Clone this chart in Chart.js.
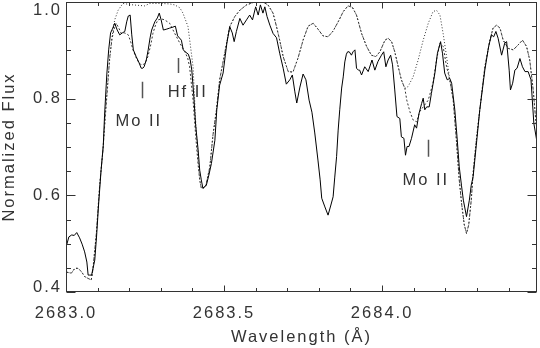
<!DOCTYPE html>
<html><head><meta charset="utf-8">
<script src="https://cdn.jsdelivr.net/npm/chart.js@4/dist/chart.umd.min.js"></script>
<style>html,body{margin:0;padding:0;background:#fff}#wrap{width:540px;height:348px;position:relative}</style>
</head><body><div id="wrap"><canvas id="c"></canvas></div>
<script>
// Observed spectrum (solid)
const obsWave = [2683.002,2683.009,2683.018,2683.026,2683.034,2683.043,2683.051,2683.059,2683.066,2683.070,2683.075,2683.081,2683.091,2683.097,2683.103,2683.111,2683.118,2683.122,2683.129,2683.135,2683.141,2683.148,2683.154,2683.162,2683.170,2683.178,2683.186,2683.192,2683.197,2683.203,2683.208,2683.213,2683.222,2683.230,2683.238,2683.243,2683.247,2683.254,2683.260,2683.266,2683.271,2683.281,2683.289,2683.295,2683.301,2683.308,2683.319,2683.328,2683.338,2683.346,2683.353,2683.365,2683.371,2683.377,2683.387,2683.393,2683.398,2683.404,2683.410,2683.418,2683.423,2683.428,2683.433,2683.444,2683.452,2683.460,2683.471,2683.477,2683.486,2683.497,2683.504,2683.509,2683.518,2683.526,2683.532,2683.539,2683.550,2683.560,2683.571,2683.581,2683.590,2683.600,2683.608,2683.615,2683.623,2683.629,2683.636,2683.645,2683.655,2683.666,2683.676,2683.687,2683.697,2683.708,2683.716,2683.724,2683.730,2683.740,2683.750,2683.759,2683.769,2683.778,2683.787,2683.797,2683.804,2683.809,2683.819,2683.829,2683.838,2683.845,2683.850,2683.856,2683.861,2683.866,2683.872,2683.877,2683.882,2683.887,2683.891,2683.896,2683.903,2683.908,2683.914,2683.919,2683.925,2683.929,2683.935,2683.945,2683.956,2683.968,2683.977,2683.987,2683.998,2684.005,2684.012,2684.019,2684.027,2684.033,2684.040,2684.047,2684.056,2684.061,2684.069,2684.074,2684.079,2684.085,2684.093,2684.103,2684.109,2684.117,2684.125,2684.130,2684.135,2684.141,2684.149,2684.156,2684.167,2684.175,2684.185,2684.191,2684.198,2684.206,2684.214,2684.220,2684.230,2684.237,2684.244,2684.251,2684.257,2684.267,2684.276,2684.282,2684.288,2684.298,2684.309,2684.325,2684.337,2684.346,2684.353,2684.360,2684.367,2684.378,2684.388,2684.394,2684.402,2684.406,2684.413,2684.420,2684.427,2684.436,2684.444,2684.452,2684.462,2684.471,2684.480,2684.489];
const obsFlux = [0.497,0.514,0.518,0.517,0.523,0.512,0.499,0.483,0.462,0.435,0.435,0.435,0.466,0.518,0.580,0.652,0.704,0.766,0.849,0.901,0.936,0.946,0.956,0.942,0.932,0.936,0.939,0.959,0.971,0.973,0.932,0.901,0.887,0.876,0.863,0.863,0.866,0.880,0.901,0.926,0.942,0.959,0.967,0.977,0.963,0.942,0.944,0.946,0.948,0.950,0.930,0.921,0.901,0.897,0.892,0.880,0.859,0.808,0.746,0.694,0.652,0.632,0.615,0.621,0.642,0.666,0.714,0.777,0.828,0.853,0.890,0.915,0.949,0.936,0.918,0.939,0.966,0.952,0.963,0.973,0.963,0.990,0.973,0.994,0.977,0.990,0.970,0.952,0.935,0.926,0.894,0.863,0.830,0.839,0.849,0.814,0.791,0.824,0.851,0.839,0.797,0.772,0.729,0.673,0.632,0.594,0.576,0.559,0.580,0.597,0.636,0.680,0.735,0.777,0.822,0.845,0.876,0.892,0.897,0.897,0.890,0.897,0.901,0.863,0.859,0.859,0.849,0.866,0.856,0.880,0.859,0.877,0.890,0.897,0.866,0.880,0.890,0.870,0.818,0.763,0.759,0.721,0.718,0.683,0.701,0.701,0.718,0.746,0.739,0.770,0.790,0.801,0.777,0.783,0.783,0.811,0.853,0.894,0.918,0.894,0.853,0.839,0.842,0.832,0.777,0.721,0.659,0.621,0.590,0.556,0.590,0.621,0.639,0.704,0.777,0.859,0.908,0.932,0.928,0.939,0.925,0.890,0.915,0.918,0.859,0.818,0.832,0.859,0.863,0.883,0.866,0.856,0.856,0.839,0.749,0.714];

// Synthetic spectrum including the Mo II / Hf II lines
const synLinesWave = [2683.002,2683.017,2683.028,2683.038,2683.049,2683.059,2683.070,2683.080,2683.085,2683.096,2683.107,2683.117,2683.124,2683.132,2683.138,2683.145,2683.151,2683.159,2683.167,2683.175,2683.186,2683.197,2683.205,2683.212,2683.221,2683.228,2683.236,2683.244,2683.252,2683.259,2683.268,2683.275,2683.284,2683.291,2683.302,2683.312,2683.328,2683.344,2683.360,2683.376,2683.385,2683.391,2683.402,2683.410,2683.418,2683.423,2683.428,2683.436,2683.442,2683.455,2683.465,2683.476,2683.486,2683.502,2683.518,2683.534,2683.550,2683.571,2683.597,2683.623,2683.639,2683.655,2683.666,2683.676,2683.687,2683.703,2683.718,2683.734,2683.750,2683.766,2683.782,2683.797,2683.813,2683.829,2683.845,2683.861,2683.877,2683.892,2683.906,2683.919,2683.935,2683.951,2683.966,2683.980,2683.993,2684.009,2684.019,2684.030,2684.040,2684.051,2684.061,2684.072,2684.078,2684.088,2684.098,2684.109,2684.119,2684.130,2684.146,2684.161,2684.172,2684.183,2684.193,2684.204,2684.214,2684.225,2684.235,2684.244,2684.252,2684.260,2684.267,2684.274,2684.282,2684.288,2684.298,2684.309,2684.325,2684.341,2684.351,2684.362,2684.373,2684.383,2684.399,2684.415,2684.430,2684.444,2684.457,2684.467,2684.478,2684.486,2684.490];
const synLinesFlux = [0.441,0.439,0.449,0.449,0.442,0.432,0.428,0.425,0.446,0.521,0.625,0.694,0.760,0.828,0.884,0.921,0.942,0.956,0.946,0.935,0.936,0.932,0.917,0.901,0.886,0.877,0.871,0.870,0.876,0.887,0.911,0.935,0.954,0.963,0.965,0.963,0.956,0.935,0.915,0.897,0.884,0.866,0.797,0.725,0.663,0.632,0.615,0.615,0.619,0.659,0.725,0.777,0.839,0.894,0.949,0.970,0.983,0.994,1.000,1.000,0.994,0.977,0.949,0.921,0.887,0.856,0.855,0.884,0.921,0.950,0.956,0.944,0.930,0.928,0.940,0.959,0.980,0.992,0.989,0.973,0.935,0.908,0.890,0.887,0.897,0.921,0.925,0.918,0.897,0.866,0.839,0.821,0.797,0.773,0.756,0.752,0.773,0.783,0.797,0.832,0.880,0.915,0.908,0.866,0.839,0.797,0.714,0.632,0.580,0.539,0.521,0.539,0.590,0.646,0.714,0.777,0.866,0.921,0.946,0.952,0.946,0.921,0.904,0.901,0.911,0.921,0.908,0.880,0.818,0.756,0.735];

// Synthetic spectrum without those lines
const synContWave = [2683.002,2683.017,2683.028,2683.038,2683.049,2683.059,2683.070,2683.080,2683.085,2683.096,2683.107,2683.117,2683.124,2683.133,2683.144,2683.154,2683.165,2683.180,2683.212,2683.249,2683.265,2683.302,2683.328,2683.344,2683.360,2683.370,2683.386,2683.402,2683.410,2683.418,2683.423,2683.428,2683.436,2683.442,2683.455,2683.465,2683.476,2683.486,2683.502,2683.518,2683.534,2683.550,2683.571,2683.597,2683.623,2683.639,2683.655,2683.666,2683.676,2683.687,2683.703,2683.718,2683.734,2683.750,2683.766,2683.782,2683.797,2683.813,2683.829,2683.845,2683.861,2683.877,2683.892,2683.906,2683.919,2683.935,2683.951,2683.966,2683.980,2683.993,2684.009,2684.019,2684.030,2684.040,2684.051,2684.061,2684.072,2684.082,2684.098,2684.114,2684.130,2684.146,2684.161,2684.172,2684.183,2684.193,2684.204,2684.214,2684.225,2684.235,2684.244,2684.252,2684.260,2684.267,2684.274,2684.282,2684.288,2684.298,2684.309,2684.325,2684.341,2684.351,2684.362,2684.373,2684.383,2684.399,2684.415,2684.430,2684.444,2684.457,2684.467,2684.478,2684.486,2684.490];
const synContFlux = [0.441,0.439,0.449,0.449,0.442,0.432,0.428,0.425,0.446,0.521,0.625,0.694,0.766,0.843,0.921,0.963,0.983,0.997,0.994,0.992,0.997,0.997,0.996,0.994,0.988,0.977,0.949,0.866,0.756,0.673,0.632,0.615,0.615,0.619,0.659,0.725,0.777,0.839,0.894,0.949,0.970,0.983,0.994,1.000,1.000,0.994,0.977,0.949,0.921,0.887,0.856,0.855,0.884,0.921,0.950,0.956,0.944,0.930,0.928,0.940,0.959,0.980,0.992,0.989,0.973,0.935,0.908,0.890,0.887,0.897,0.921,0.925,0.918,0.897,0.866,0.839,0.821,0.825,0.845,0.880,0.921,0.956,0.980,0.983,0.973,0.935,0.887,0.839,0.797,0.714,0.632,0.580,0.539,0.521,0.539,0.590,0.646,0.714,0.777,0.866,0.921,0.946,0.952,0.946,0.921,0.904,0.901,0.911,0.921,0.908,0.880,0.818,0.756,0.735];

const xTickValues = [2683.0, 2683.5, 2684.0];
const yTickValues = [0.4, 0.6, 0.8, 1.0];
const xRange = [2683.0, 2684.49];
const yRange = [0.4, 1.0];

// Line identifications
const idLabels = ['Mo II', 'Hf II', 'Mo II'];
const idLabelWave = [2683.227, 2683.382, 2684.135];
const idLabelFlux = [0.752, 0.813, 0.631];
const idMarkWave = [2683.239, 2683.354, 2684.146];
const idMarkLow = [0.801, 0.853, 0.680];
const idMarkHigh = [0.835, 0.884, 0.715];

const FONT = '"Liberation Sans", Arial, sans-serif';
const FS = 16.5;
const TXT = '#333';

const toXY = (w, f) => w.map((v, i) => ({x: v, y: f[i]}));

const framePlugin = {
  id: 'frame',
  beforeDraw(chart) { chart.ctx.letterSpacing = '2px'; },
  afterDraw(chart) {
    const {ctx, chartArea: a, scales: {x, y}} = chart;
    ctx.save();
    ctx.letterSpacing = '0px';
    ctx.strokeStyle = '#333';
    ctx.lineWidth = 1;
    const L = Math.round(a.left) + 0.5, R = Math.round(a.right) - 0.5;
    const T = Math.round(a.top) + 0.5, B = Math.round(a.bottom) - 0.5;
    ctx.strokeRect(L, T, R - L, B - T);
    ctx.beginPath();
    for (let i = 0; ; i++) {
      const v = xRange[0] + i * 0.1;
      if (v > xRange[1] + 1e-9) break;
      const px = Math.round(x.getPixelForValue(v)) + 0.5;
      const major = xTickValues.some(t => Math.abs(t - v) < 1e-6);
      const len = major ? 6 : 3.5;
      ctx.moveTo(px, B); ctx.lineTo(px, B - len);
      ctx.moveTo(px, T); ctx.lineTo(px, T + len);
    }
    for (let i = 0; ; i++) {
      const v = yRange[0] + i * 0.05;
      if (v > yRange[1] + 1e-9) break;
      const py = Math.round(y.getPixelForValue(v)) + 0.5;
      const major = yTickValues.some(t => Math.abs(t - v) < 1e-6);
      const len = major ? 9 : 4.5;
      ctx.moveTo(L, py); ctx.lineTo(L + len, py);
      ctx.moveTo(R, py); ctx.lineTo(R - len, py);
    }
    ctx.stroke();

    ctx.letterSpacing = '2px';
    ctx.font = FS + 'px ' + FONT;
    ctx.fillStyle = TXT;
    ctx.textAlign = 'right';
    ctx.textBaseline = 'middle';
    yTickValues.forEach(v => {
      let py = y.getPixelForValue(v);
      py = Math.min(Math.max(py, a.top + 8), a.bottom - 4.5);
      ctx.fillText(v.toFixed(1), a.left - 4, py);
    });

    ctx.strokeStyle = '#555';
    ctx.lineWidth = 1.5;
    ctx.beginPath();
    idMarkWave.forEach((w, i) => {
      const px = Math.round(x.getPixelForValue(w)) + 0.5;
      ctx.moveTo(px, y.getPixelForValue(idMarkLow[i]));
      ctx.lineTo(px, y.getPixelForValue(idMarkHigh[i]));
    });
    ctx.stroke();
    ctx.textAlign = 'center';
    ctx.fillStyle = '#333';
    idLabels.forEach((t, i) => {
      ctx.fillText(t, x.getPixelForValue(idLabelWave[i]) + 1, y.getPixelForValue(idLabelFlux[i]));
    });
    ctx.restore();
  }
};

new Chart(document.getElementById('c'), {
  type: 'line',
  data: {
    datasets: [
      {label: 'Observed', data: toXY(obsWave, obsFlux), borderColor: '#000', borderWidth: 1, pointRadius: 0, tension: 0, fill: false},
      {label: 'Synthetic with lines', data: toXY(synLinesWave, synLinesFlux), borderColor: '#333', borderWidth: 1, borderDash: [2, 2], pointRadius: 0, tension: 0, fill: false},
      {label: 'Synthetic without lines', data: toXY(synContWave, synContFlux), borderColor: '#333', borderWidth: 1, borderDash: [1, 2], pointRadius: 0, tension: 0, fill: false}
    ]
  },
  options: {
    responsive: true,
    maintainAspectRatio: false,
    animation: false,
    devicePixelRatio: 1,
    layout: {padding: {top: 2, right: 3, left: 0, bottom: 0}},
    plugins: {legend: {display: false}, tooltip: {enabled: false}},
    scales: {
      x: {
        type: 'linear', min: xRange[0], max: xRange[1],
        afterBuildTicks: s => { s.ticks = xTickValues.map(v => ({value: v})); },
        afterFit: s => { s.height = 56; },
        grid: {display: false, drawTicks: false},
        border: {display: false},
        ticks: {padding: 12, color: TXT, font: {family: FONT, size: FS}, maxRotation: 0, autoSkip: false, callback: v => Number(v).toFixed(1)},
        title: {display: true, text: 'Wavelength (Å)', color: TXT, font: {family: FONT, size: FS}, padding: {top: 0, bottom: 1}}
      },
      y: {
        type: 'linear', min: yRange[0], max: yRange[1],
        afterFit: s => { s.width = 66; },
        grid: {display: false, drawTicks: false},
        border: {display: false},
        ticks: {display: false},
        title: {display: true, text: 'Normalized Flux', color: TXT, font: {family: FONT, size: FS}, padding: {top: 0, bottom: 0}}
      }
    }
  },
  plugins: [framePlugin]
});
</script>
</body></html>
